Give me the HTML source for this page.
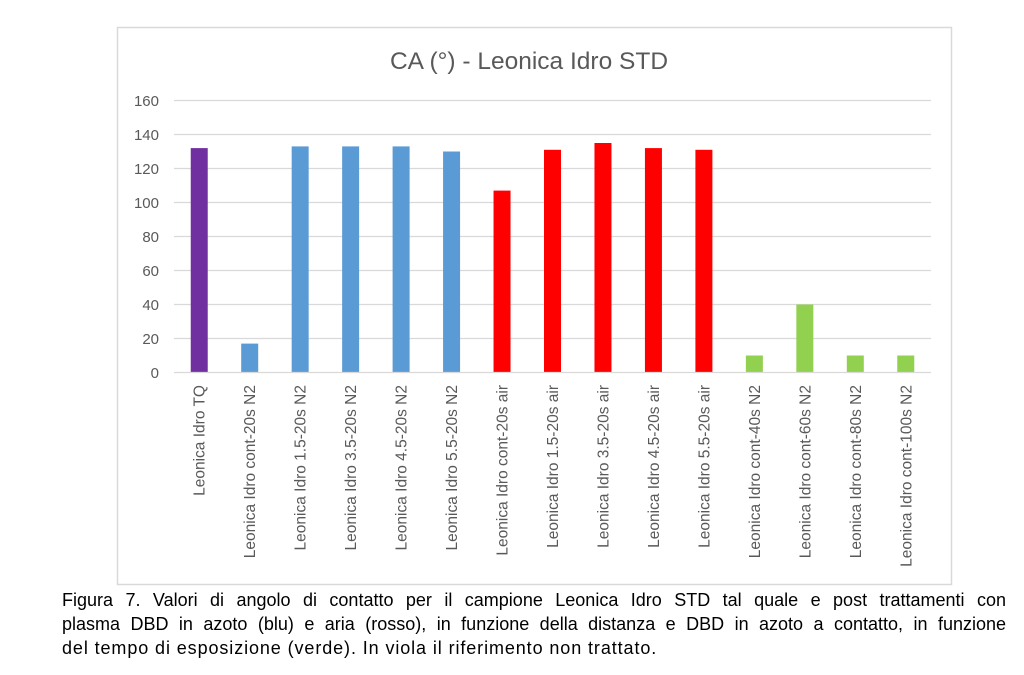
<!DOCTYPE html>
<html><head><style>
body{margin:0;background:#fff;width:1024px;height:675px;overflow:hidden;position:relative;font-family:"Liberation Sans",sans-serif}
.cap{position:absolute;left:62px;top:588px;width:944px;font-size:18px;letter-spacing:0.9px;line-height:24px;color:#000}
.cap div{text-align:justify;text-align-last:justify;white-space:nowrap;letter-spacing:0}
.cap div.last{text-align-last:left;letter-spacing:0.9px}
</style></head><body>
<svg width="1024" height="675" style="position:absolute;left:0;top:0" font-family="Liberation Sans, sans-serif">
<rect x="117.5" y="27.5" width="834" height="557" fill="#fff" stroke="#d9d9d9" stroke-width="1.5"/>
<text x="529" y="69" text-anchor="middle" font-size="24.5" fill="#595959">CA (°) - Leonica Idro STD</text>
<g stroke="#d9d9d9" stroke-width="1.3">
<line x1="174" x2="931" y1="100.5" y2="100.5"/><line x1="174" x2="931" y1="134.5" y2="134.5"/>
<line x1="174" x2="931" y1="168.5" y2="168.5"/><line x1="174" x2="931" y1="202.5" y2="202.5"/>
<line x1="174" x2="931" y1="236.5" y2="236.5"/><line x1="174" x2="931" y1="270.5" y2="270.5"/>
<line x1="174" x2="931" y1="304.5" y2="304.5"/><line x1="174" x2="931" y1="338.5" y2="338.5"/>
</g>
<g font-size="15" fill="#595959" text-anchor="end">
<text x="159" y="106">160</text><text x="159" y="140">140</text><text x="159" y="174">120</text>
<text x="159" y="208">100</text><text x="159" y="242">80</text><text x="159" y="276">60</text>
<text x="159" y="310">40</text><text x="159" y="344">20</text><text x="159" y="378">0</text>
</g>
<g id="bars"></g>
<line x1="174" x2="931" y1="372.5" y2="372.5" stroke="#d9d9d9" stroke-width="1.3"/>
<g id="labels" font-size="15.5" fill="#595959"></g>
</svg>
<div class="cap">
<div>Figura 7. Valori di angolo di contatto per il campione Leonica Idro STD tal quale e post trattamenti con</div>
<div>plasma DBD in azoto (blu) e aria (rosso), in funzione della distanza e DBD in azoto a contatto, in funzione</div>
<div class="last">del tempo di esposizione (verde). In viola il riferimento non trattato.</div>
</div>
<script>
var v=[132,17,133,133,133,130,107,131,135,132,131,10,40,10,10];
var c=["#7030a0","#5b9bd5","#5b9bd5","#5b9bd5","#5b9bd5","#5b9bd5","#ff0000","#ff0000","#ff0000","#ff0000","#ff0000","#92d050","#92d050","#92d050","#92d050"];
var l=["Leonica Idro TQ","Leonica Idro cont-20s N2","Leonica Idro 1.5-20s N2","Leonica Idro 3.5-20s N2","Leonica Idro 4.5-20s N2","Leonica Idro 5.5-20s N2","Leonica Idro cont-20s air","Leonica Idro 1.5-20s air","Leonica Idro 3.5-20s air","Leonica Idro 4.5-20s air","Leonica Idro 5.5-20s air","Leonica Idro cont-40s N2","Leonica Idro cont-60s N2","Leonica Idro cont-80s N2","Leonica Idro cont-100s N2"];
var ns="http://www.w3.org/2000/svg",B=document.getElementById("bars"),L=document.getElementById("labels");
var w=757/15;
for(var i=0;i<15;i++){var cx=174+w*(i+0.5),h=v[i]*1.7;
var r=document.createElementNS(ns,"rect");r.setAttribute("x",cx-8.5);r.setAttribute("width",17);r.setAttribute("y",372.5-h);r.setAttribute("height",h);r.setAttribute("fill",c[i]);B.appendChild(r);
var t=document.createElementNS(ns,"text");t.setAttribute("text-anchor","end");t.setAttribute("transform","translate("+(cx+5.5)+",385) rotate(-90)");t.textContent=l[i];L.appendChild(t);}
</script>
</body></html>
